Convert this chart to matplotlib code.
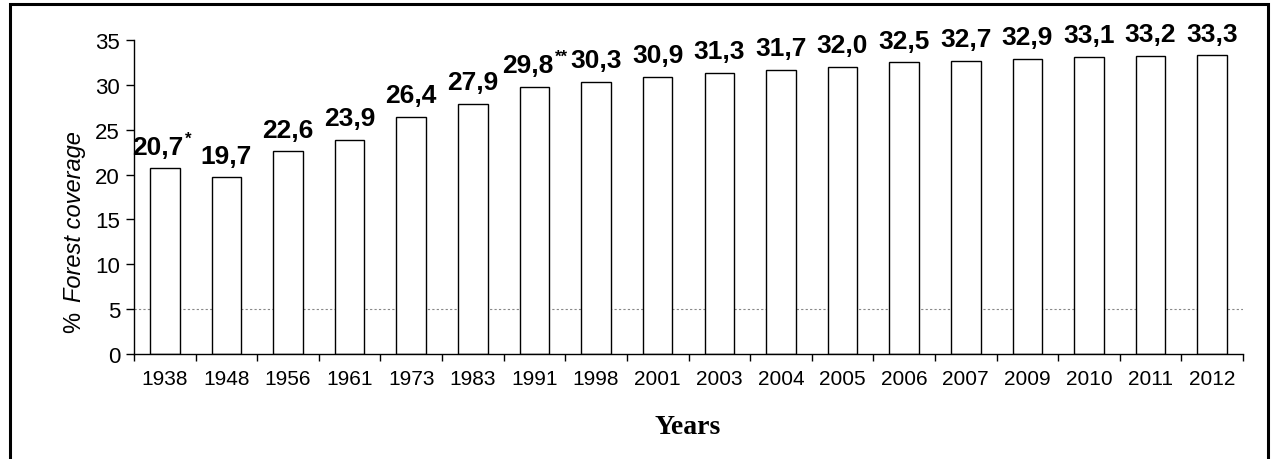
import matplotlib
matplotlib.use("Agg")
import matplotlib.pyplot as plt
import numpy as np
from matplotlib.patches import Rectangle

years = ["1938", "1948", "1956", "1961", "1973", "1983", "1991", "1998", "2001",
         "2003", "2004", "2005", "2006", "2007", "2009", "2010", "2011", "2012"]
coverage = [20.7, 19.7, 22.6, 23.9, 26.4, 27.9, 29.8, 30.3, 30.9,
            31.3, 31.7, 32.0, 32.5, 32.7, 32.9, 33.1, 33.2, 33.3]
notes = ["*", "", "", "", "", "", "**", "", "", "", "", "", "", "", "", "", "", ""]
yticks = [0, 5, 10, 15, 20, 25, 30, 35]

plt.rcParams['font.family'] = ['Liberation Sans', 'DejaVu Sans']

fig = plt.figure(figsize=(12.76, 4.6), dpi=100)
ax = fig.add_axes([134/1276, 1 - 355/460, (1243-134)/1276, (355-41)/460])

x = np.arange(len(years))
ax.axhline(5, color='#888888', ls=(0, (2, 2)), lw=0.8, zorder=0)
ax.bar(x, coverage, width=0.48, color='white', edgecolor='black', linewidth=1.0, zorder=2)

for xi, v, n in zip(x, coverage, notes):
    lab = f"{v:.1f}".replace(".", ",")
    t = ax.annotate(lab, xy=(xi, v), xytext=(-5 if n else 0, 7), textcoords='offset points',
                    ha='center', va='bottom', fontsize=19, fontweight='bold',
                    annotation_clip=False)
    if n:
        ax.annotate(n, xy=(1, 1), xycoords=t, xytext=(1, 3), textcoords='offset points',
                    ha='left', va='top', fontsize=12, fontweight='bold')

ax.set_xlim(-0.5, len(years) - 0.5)
ax.set_ylim(0, 35)
ax.set_yticks(yticks)
ax.set_yticklabels([str(v) for v in yticks], fontsize=16)
ax.set_xticks(x)
ax.set_xticklabels(years, fontsize=15)
ax.set_xticks(np.arange(len(years) + 1) - 0.5, minor=True)
ax.tick_params(axis='x', which='major', length=0, pad=11)
ax.tick_params(axis='x', which='minor', length=5, width=1, direction='out')
ax.tick_params(axis='y', length=6, width=1, direction='out', pad=4)

for s in ['top', 'right']:
    ax.spines[s].set_visible(False)
for s in ['left', 'bottom']:
    ax.spines[s].set_linewidth(1.0)

fig.text(74/1276, 1 - 217/460, "Forest coverage", rotation=90, ha='center', va='center',
         fontsize=17, fontstyle='italic')
fig.text(74/1276, 1 - 322/460, "%", rotation=90, ha='center', va='center', fontsize=17)

fig.text(688/1276, 1 - 428/460, "Years", ha='center', va='center', fontsize=20,
         fontweight='bold', family=['Liberation Serif', 'DejaVu Serif'])

frame = Rectangle((10/1276, -0.05), (1268-10)/1276, 1.05 - 5/460, transform=fig.transFigure,
                  fill=False, edgecolor='black', linewidth=2.2, clip_on=False)
fig.patches.append(frame)

fig.savefig("out.png", dpi=100)
